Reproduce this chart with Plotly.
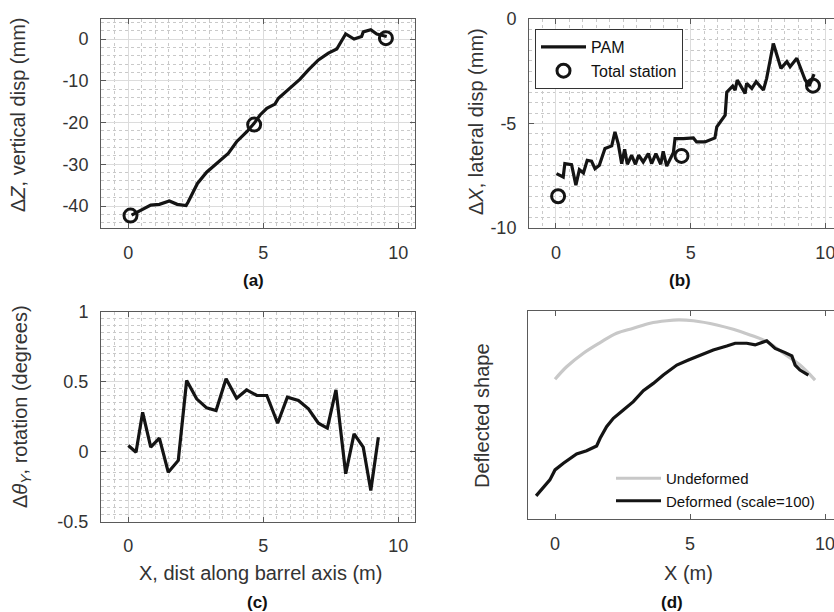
import plotly.graph_objects as go

# ---------------- data ----------------
ts_x = [0.08, 4.66, 9.54]
ts_dz = [-42.3, -20.5, 0.2]
ts_dx = [-8.48, -6.55, -3.19]

xa = [0.12, 0.50, 0.83, 1.15, 1.52, 1.81, 2.14, 2.22, 2.56, 2.90, 3.21, 3.58, 3.70, 4.01,
      4.39, 4.66, 4.88, 5.13, 5.43, 5.56, 5.99, 6.36, 6.67, 7.04, 7.41, 7.72, 8.05, 8.36,
      8.64, 8.70, 8.98, 9.20, 9.57]
dza = [-42.2, -41.0, -39.8, -39.6, -38.8, -39.6, -39.9, -39.0, -34.6, -31.9, -30.2, -28.3,
       -27.4, -24.6, -22.2, -20.2, -18.2, -16.6, -15.6, -14.2, -11.8, -9.6, -7.4, -5.0,
       -3.4, -2.4, 1.2, 0.0, 0.6, 1.7, 2.2, 1.2, 0.6]

xb = [0.02, 0.27, 0.33, 0.58, 0.74, 0.87, 1.02, 1.16, 1.32, 1.45, 1.61, 1.82, 2.07, 2.19,
      2.31, 2.44, 2.55, 2.65, 2.81, 2.95, 3.07, 3.24, 3.43, 3.55, 3.71, 3.89, 3.98, 4.11,
      4.36, 4.42, 4.73, 5.10, 5.22, 5.53, 5.90, 5.97, 6.28, 6.34, 6.56, 6.65, 6.73, 7.02,
      7.08, 7.27, 7.43, 7.70, 7.82, 8.07, 8.35, 8.57, 8.69, 8.94, 9.25, 9.40, 9.58]
dxb = [-7.40, -7.56, -6.92, -6.97, -7.95, -7.21, -7.37, -6.76, -6.80, -7.16, -7.00, -6.20,
       -6.07, -5.40, -5.96, -6.92, -6.23, -6.95, -6.52, -6.95, -6.52, -6.84, -6.44, -6.92,
       -6.44, -6.95, -6.33, -7.04, -6.39, -5.72, -5.72, -5.69, -5.88, -5.88, -5.69, -5.16,
       -4.60, -3.50, -3.21, -3.40, -2.92, -3.56, -3.08, -3.32, -3.00, -3.40, -2.84, -1.17,
       -2.36, -2.04, -2.28, -1.88, -2.92, -3.20, -2.64]

xc = [0.0, 0.285, 0.53, 0.83, 1.15, 1.48, 1.85, 2.16, 2.53, 2.90, 3.25, 3.62, 4.01, 4.38,
      4.76, 5.13, 5.53, 5.89, 6.30, 6.67, 7.04, 7.37, 7.69, 8.05, 8.36, 8.70, 8.98, 9.26]
rot_c = [0.043, -0.005, 0.28, 0.031, 0.095, -0.148, -0.064, 0.507, 0.376, 0.312, 0.293,
         0.519, 0.381, 0.44, 0.40, 0.40, 0.202, 0.388, 0.364, 0.305, 0.202, 0.167, 0.44,
         -0.159, 0.126, 0.031, -0.279, 0.102]

x_undef = [0.0, 0.43, 1.05, 1.67, 2.28, 2.90, 3.52, 4.14, 4.57, 5.12, 5.99, 6.60, 7.22,
           7.84, 8.46, 9.07, 9.63]
y_undef = [0.672, 0.732, 0.797, 0.848, 0.893, 0.917, 0.941, 0.953, 0.957, 0.953, 0.933,
           0.912, 0.885, 0.853, 0.797, 0.740, 0.668]
x_def = [-0.70, -0.19, 0.0, 0.31, 0.80, 1.17, 1.54, 1.67, 1.91, 2.16, 2.53, 2.90, 3.27,
         3.64, 4.01, 4.51, 4.94, 5.37, 5.86, 6.36, 6.67, 7.10, 7.41, 7.84, 8.15, 8.52,
         8.77, 8.89, 9.07, 9.38]
y_def = [0.111, 0.188, 0.236, 0.268, 0.313, 0.328, 0.351, 0.388, 0.444, 0.484, 0.524,
         0.564, 0.617, 0.652, 0.692, 0.740, 0.764, 0.788, 0.813, 0.832, 0.845, 0.845,
         0.837, 0.857, 0.820, 0.800, 0.784, 0.740, 0.716, 0.692]

x_ticks = [0, 5, 10]
x_ticktext = ["0", "5", "10"]
ya_ticks = [-40, -30, -20, -10, 0]
ya_text = ["-40", "-30", "-20", "-10", "0"]
yb_ticks = [-10, -5, 0]
yb_text = ["-10", "-5", "0"]
yc_ticks = [-0.5, 0, 0.5, 1]
yc_text = ["-0.5", "0", "0.5", "1"]

panel_labels = ["(a)", "(b)", "(c)", "(d)"]

# ---------------- style ----------------
W, H = 834, 612
FONT = "Liberation Sans, Arial, Helvetica, sans-serif"
LINE = "#141414"
AXC = "#5a5a5a"
GRID = "#dcdcdc"
MINOR = "#c9c9c9"
TICKF = dict(family=FONT, size=18, color="#333333")


def px(v):
    return v / W


def py(v):
    return 1 - v / H


fig = go.Figure()

# (a)
fig.add_trace(go.Scatter(x=xa, y=dza, mode="lines", line=dict(color=LINE, width=3.2),
                         xaxis="x", yaxis="y", showlegend=False))
fig.add_trace(go.Scatter(x=ts_x, y=ts_dz, mode="markers",
                         marker=dict(symbol="circle-open", size=13, color=LINE,
                                     line=dict(width=3, color=LINE)),
                         xaxis="x", yaxis="y", showlegend=False))
# (b)
fig.add_trace(go.Scatter(x=xb, y=dxb, mode="lines", name="PAM",
                         line=dict(color=LINE, width=3.2),
                         xaxis="x2", yaxis="y2", legend="legend"))
fig.add_trace(go.Scatter(x=ts_x, y=ts_dx, mode="markers", name="Total station",
                         marker=dict(symbol="circle-open", size=13, color=LINE,
                                     line=dict(width=3, color=LINE)),
                         xaxis="x2", yaxis="y2", legend="legend"))
# (c)
fig.add_trace(go.Scatter(x=xc, y=rot_c, mode="lines", line=dict(color=LINE, width=3.2),
                         xaxis="x3", yaxis="y3", showlegend=False))
# (d)
fig.add_trace(go.Scatter(x=x_undef, y=y_undef, mode="lines", name="Undeformed",
                         line=dict(color="#c8c8c8", width=3.2, shape="spline"),
                         xaxis="x4", yaxis="y4", legend="legend2"))
fig.add_trace(go.Scatter(x=x_def, y=y_def, mode="lines", name="Deformed (scale=100)",
                         line=dict(color=LINE, width=3.2),
                         xaxis="x4", yaxis="y4", legend="legend2"))


def xax(dom, rng, anchor, grid=True):
    d = dict(domain=dom, range=rng, anchor=anchor, tickmode="array", tickvals=x_ticks,
             ticktext=x_ticktext, ticks="inside", ticklen=5, tickcolor=AXC, tickwidth=1,
             showline=True, linecolor=AXC, linewidth=1, mirror="ticks", zeroline=False,
             tickfont=TICKF, ticklabelstandoff=8, ticklabeloverflow="allow",
             showgrid=grid, gridcolor=GRID, gridwidth=1)
    if grid:
        d["minor"] = dict(tickmode="linear", tick0=0, dtick=0.5, showgrid=True,
                          gridcolor=MINOR, griddash="dot", gridwidth=1, ticks="")
    return d


def yax(dom, rng, anchor, tv, tt, mdt, mirror="ticks"):
    return dict(domain=dom, range=rng, anchor=anchor, tickmode="array", tickvals=tv,
                ticktext=tt, ticks="inside", ticklen=5, tickcolor=AXC, tickwidth=1,
                showline=True, linecolor=AXC, linewidth=1, mirror=mirror, zeroline=False,
                tickfont=TICKF, ticklabelstandoff=8, ticklabeloverflow="allow",
                showgrid=True, gridcolor=GRID,
                minor=dict(tickmode="linear", tick0=0, dtick=mdt, showgrid=True,
                           gridcolor=MINOR, griddash="dot", gridwidth=1, ticks=""))


top_dom = [py(228), py(19)]
bot_dom_c = [py(521.5), py(311.5)]
bot_dom_d = [py(519), py(311)]
left_dom = [px(101), px(415)]
right_dom = [px(529), 1.0]
right_dom_d = [px(528), 1.0]

layout = dict(
    width=W, height=H, margin=dict(l=0, r=0, t=0, b=0),
    paper_bgcolor="white", plot_bgcolor="white", template="none",
    font=dict(family=FONT, color="#262626"),
    xaxis=xax(left_dom, [-1.012, 10.617], "y"),
    yaxis=yax(top_dom, [-45.27, 4.79], "x", ya_ticks, ya_text, 2),
    xaxis2=xax(right_dom, [-1.0, 10.32], "y2"),
    yaxis2=yax(top_dom, [-10, 0], "x2", yb_ticks, yb_text, 0.5, mirror=False),
    xaxis3=xax(left_dom, [-1.012, 10.617], "y3"),
    yaxis3=yax(bot_dom_c, [-0.5, 1.0], "x3", yc_ticks, yc_text, 0.05),
    xaxis4=xax(right_dom_d, [-1.0, 10.33], "y4", grid=False),
    yaxis4=dict(domain=bot_dom_d, range=[0, 1], anchor="x4", showticklabels=False,
                ticks="", showline=True, linecolor=AXC, linewidth=1, mirror=False,
                showgrid=False, zeroline=False),
    legend=dict(x=px(535), y=py(29), xanchor="left", yanchor="top",
                bordercolor="#333333", borderwidth=1, bgcolor="white",
                font=dict(family=FONT, size=16, color="#111111"),
                itemwidth=45, tracegroupgap=0),
    legend2=dict(x=px(611), y=py(462), xanchor="left", yanchor="top",
                 bgcolor="rgba(0,0,0,0)", borderwidth=0,
                 font=dict(family=FONT, size=15, color="#111111"),
                 itemwidth=45, tracegroupgap=0),
    showlegend=True,
)
fig.update_layout(**layout)

TF = dict(family=FONT, size=20, color="#333333")
ann = []


def add_text(text, x, y, angle=0, font=TF):
    ann.append(dict(text=text, x=px(x), y=py(y), xref="paper", yref="paper",
                    showarrow=False, textangle=angle, font=font,
                    xanchor="center", yanchor="middle"))


add_text("Δ<i>Z</i>, vertical disp (mm)", 18, 115, -90)
add_text("Δ<i>X</i>, lateral disp (mm)", 476, 122, -90)
add_text("Δ<i>θ</i><sub><i>Y</i></sub>, rotation (degrees)", 21, 407, -90)
add_text("Deflected shape", 482, 415, -90)
add_text("X, dist along barrel axis (m)", 260, 573)
add_text("X (m)", 688, 573)

LBL = dict(family=FONT, size=17, color="#111111")
for lab, (lx, ly) in zip(panel_labels, [(253, 281), (680, 281), (257, 602), (672, 602)]):
    add_text("<b>" + lab + "</b>", lx, ly, 0, LBL)

fig.update_layout(annotations=ann)
fig.write_html("out.html")
